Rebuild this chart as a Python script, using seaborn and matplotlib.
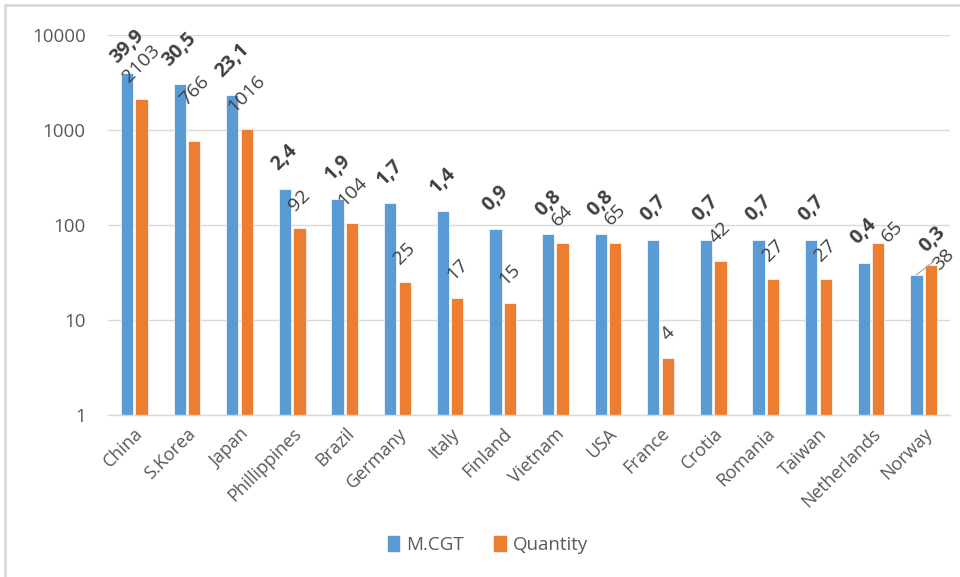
import numpy as np
import matplotlib
matplotlib.use('Agg')
import matplotlib.pyplot as plt
from matplotlib.lines import Line2D
from matplotlib.patches import Patch
import pandas as pd
import seaborn as sns

countries = ['China', 'S.Korea', 'Japan', 'Phillippines', 'Brazil', 'Germany', 'Italy',
             'Finland', 'Vietnam', 'USA', 'France', 'Crotia', 'Romania', 'Taiwan',
             'Netherlands', 'Norway']
mcgt = [39.9, 30.5, 23.1, 2.4, 1.9, 1.7, 1.4, 0.9, 0.8, 0.8, 0.7, 0.7, 0.7, 0.7, 0.4, 0.3]
quantity = [2103, 766, 1016, 92, 104, 25, 17, 15, 64, 65, 4, 42, 27, 27, 65, 38]
mcgt_scale = 100  # M.CGT bars are drawn x100 on the shared log axis

BLUE = '#5B9BD5'
ORANGE = '#ED7D31'
GRID = '#D9D9D9'
TICK = '#595959'
LABEL = '#404040'

# hand-dragged data labels in the original, (dx, dy) in pixels
nudges = {
    ('M.CGT', 'China'): (0, -8),
    ('Quantity', 'S.Korea'): (0, 18),
    ('Quantity', 'Netherlands'): (14, -17),
    ('M.CGT', 'Norway'): (16, 4),
    ('Quantity', 'Norway'): (12, -23),
}


def build_frame():
    df = pd.DataFrame({
        'country': countries * 2,
        'series': ['M.CGT'] * len(countries) + ['Quantity'] * len(countries),
        'value': [v * mcgt_scale for v in mcgt] + quantity,
    })
    return df


def main():
    sns.set_style('white')
    plt.rcParams['font.family'] = ['Open Sans', 'DejaVu Sans']

    df = build_frame()
    fig = plt.figure(figsize=(9.6, 5.77), dpi=100)
    ax = fig.add_axes([0.1125, 0.2808, 0.8771, 0.6585])

    sns.barplot(data=df, x='country', y='value', hue='series',
                palette=[BLUE, ORANGE], saturation=1, width=0.55, gap=0.15,
                edgecolor='white', linewidth=0.5, ax=ax)
    ax.set_yscale('log')
    ax.set_ylim(1, 10000)
    ax.set_xlim(-0.5, len(countries) - 0.5)
    ax.set_yticks([1, 10, 100, 1000, 10000])
    ax.set_yticklabels(['1', '10', '100', '1000', '10000'])
    ax.yaxis.set_minor_locator(matplotlib.ticker.NullLocator())
    ax.grid(axis='y', color=GRID, linewidth=1)
    ax.set_axisbelow(True)
    for s in ['top', 'right', 'left']:
        ax.spines[s].set_visible(False)
    ax.spines['bottom'].set_color(GRID)
    ax.spines['bottom'].set_linewidth(1)
    ax.tick_params(axis='y', length=0, pad=16, labelsize=13.5, labelcolor=TICK)
    ax.set_xticks(range(len(countries)))
    ax.set_xticklabels(countries, rotation=45, ha='right', rotation_mode='anchor',
                       fontsize=13, color=TICK)
    ax.tick_params(axis='x', length=0, pad=7)
    ax.set_xlabel('')
    ax.set_ylabel('')
    ax.legend_.remove()

    px = 72 / 100
    texts = {
        'M.CGT': [f'{v:.1f}'.replace('.', ',') for v in mcgt],
        'Quantity': [str(q) for q in quantity],
    }
    for cont, name in zip(ax.containers, ['M.CGT', 'Quantity']):
        for bar, country, txt in zip(cont.patches, countries, texts[name]):
            x = bar.get_x() + bar.get_width() / 2
            top = bar.get_height()
            dx, dy = nudges.get((name, country), (0, 0))
            ax.annotate(txt, (x, top), xytext=(dx * px, (14 + dy) * px),
                        textcoords='offset points', rotation=45,
                        ha='center', va='bottom', fontsize=14,
                        fontweight='bold' if name == 'M.CGT' else 'normal',
                        color=LABEL)

    # leader line on Norway
    nb = ax.containers[0].patches[-1]
    ax.annotate('', (nb.get_x() + nb.get_width() / 2, nb.get_height()),
                xytext=(17 * px, 13 * px), textcoords='offset points',
                arrowprops=dict(arrowstyle='-', color='#A6A6A6', lw=0.8,
                                shrinkA=0, shrinkB=0))

    handles = [Patch(color=BLUE), Patch(color=ORANGE)]
    fig.legend(handles, ['M.CGT', 'Quantity'], loc='center',
               bbox_to_anchor=(488 / 960, 1 - 545 / 577), ncol=2, frameon=False,
               fontsize=13.5, handlelength=0.6, handleheight=0.8,
               handletextpad=0.4, columnspacing=1.6, labelcolor=TICK)

    # light frame on the top and left edges of the screenshot
    fig.add_artist(Line2D([5 / 960, 1], [1 - 5 / 577, 1 - 5 / 577],
                          color=GRID, lw=2, transform=fig.transFigure))
    fig.add_artist(Line2D([5 / 960, 5 / 960], [0, 1 - 5 / 577],
                          color=GRID, lw=2, transform=fig.transFigure))

    fig.savefig('out.png', dpi=100)


if __name__ == '__main__':
    main()
